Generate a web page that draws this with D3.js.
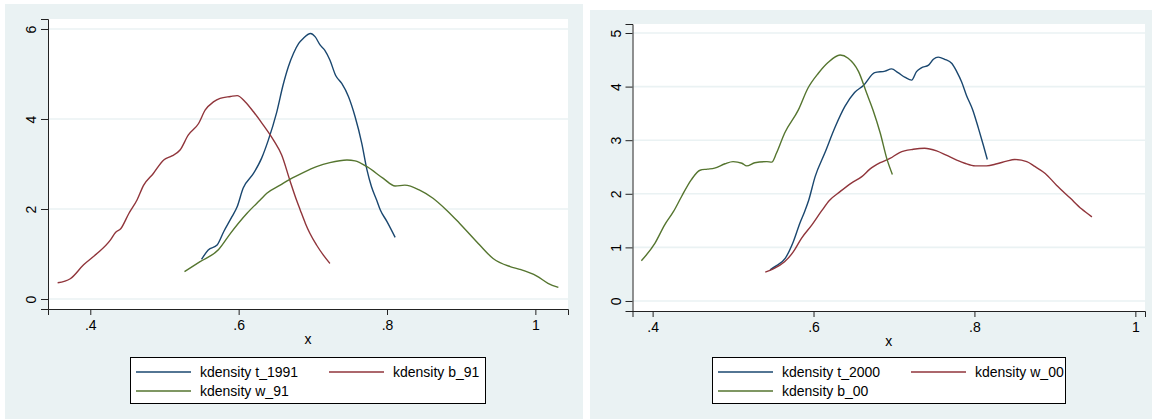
<!DOCTYPE html>
<html>
<head>
<meta charset="utf-8">
<script src="https://cdn.jsdelivr.net/npm/d3@7"></script>
<style>
    body { margin: 0; background: #fff; }
    svg { display: block; font-family: Arial, "Liberation Sans", sans-serif; }
</style>
</head>
<body>
<div id="chart"></div>
<script>
// kdensity curves, [x, density]
var t_1991 = [[0.550,0.88],[0.559,1.09],[0.571,1.20],[0.580,1.50],[0.591,1.83],[0.598,2.05],[0.606,2.46],
    [0.620,2.79],[0.631,3.13],[0.640,3.53],[0.651,4.13],[0.660,4.76],[0.667,5.16],[0.674,5.46],[0.681,5.68],
    [0.687,5.79],[0.697,5.90],[0.703,5.83],[0.710,5.64],[0.716,5.53],[0.723,5.31],[0.731,4.96],[0.739,4.79],
    [0.748,4.50],[0.757,4.05],[0.766,3.46],[0.773,2.87],[0.779,2.50],[0.786,2.20],[0.791,1.98],[0.800,1.72],[0.811,1.37]];

var b_91 = [[0.356,0.36],[0.373,0.45],[0.391,0.76],[0.409,1.01],[0.427,1.31],[0.434,1.48],[0.441,1.56],
    [0.452,1.90],[0.463,2.20],[0.472,2.53],[0.485,2.79],[0.499,3.09],[0.510,3.18],[0.521,3.31],[0.532,3.64],
    [0.546,3.90],[0.555,4.20],[0.566,4.38],[0.575,4.46],[0.589,4.50],[0.598,4.52],[0.609,4.38],[0.620,4.16],
    [0.633,3.87],[0.647,3.53],[0.658,3.20],[0.669,2.64],[0.678,2.20],[0.683,1.98],[0.690,1.68],[0.696,1.46],
    [0.705,1.20],[0.714,0.98],[0.723,0.79]];

var w_91 = [[0.527,0.61],[0.548,0.83],[0.573,1.10],[0.589,1.46],[0.611,1.90],[0.629,2.20],[0.638,2.35],
    [0.656,2.53],[0.669,2.66],[0.687,2.81],[0.705,2.94],[0.723,3.03],[0.746,3.09],[0.757,3.07],[0.773,2.94],
    [0.795,2.68],[0.811,2.51],[0.824,2.53],[0.844,2.42],[0.862,2.24],[0.880,1.98],[0.898,1.68],[0.925,1.20],
    [0.943,0.90],[0.966,0.72],[0.979,0.66],[1.002,0.51],[1.017,0.35],[1.031,0.26]];

var t_2000 = [[0.546,0.58],[0.552,0.64],[0.565,0.80],[0.575,1.11],[0.583,1.45],[0.589,1.67],[0.594,1.88],
    [0.602,2.32],[0.614,2.76],[0.627,3.25],[0.639,3.63],[0.651,3.89],[0.662,4.02],[0.676,4.26],[0.689,4.29],
    [0.697,4.33],[0.705,4.26],[0.714,4.17],[0.722,4.12],[0.728,4.28],[0.734,4.35],[0.743,4.40],[0.749,4.51],
    [0.755,4.55],[0.763,4.51],[0.772,4.43],[0.778,4.28],[0.784,4.09],[0.790,3.84],[0.798,3.56],[0.805,3.22],
    [0.811,2.91],[0.816,2.64]];

var w_00 = [[0.540,0.54],[0.550,0.60],[0.564,0.73],[0.575,0.92],[0.585,1.17],[0.598,1.42],[0.610,1.68],
    [0.620,1.88],[0.633,2.04],[0.647,2.20],[0.660,2.32],[0.670,2.46],[0.683,2.58],[0.695,2.66],[0.707,2.77],
    [0.724,2.83],[0.738,2.85],[0.753,2.80],[0.765,2.72],[0.778,2.63],[0.788,2.57],[0.801,2.52],[0.815,2.52],
    [0.828,2.56],[0.840,2.61],[0.850,2.64],[0.865,2.60],[0.875,2.51],[0.888,2.38],[0.902,2.16],[0.919,1.92],
    [0.933,1.72],[0.946,1.57]];

var b_00 = [[0.386,0.75],[0.403,1.08],[0.415,1.42],[0.426,1.67],[0.436,1.95],[0.448,2.26],[0.459,2.44],
    [0.468,2.46],[0.477,2.48],[0.490,2.56],[0.500,2.60],[0.511,2.57],[0.517,2.52],[0.527,2.58],[0.542,2.60],
    [0.548,2.59],[0.554,2.76],[0.564,3.13],[0.581,3.56],[0.593,3.97],[0.606,4.25],[0.618,4.45],[0.633,4.59],
    [0.643,4.53],[0.656,4.28],[0.666,3.88],[0.674,3.56],[0.683,3.13],[0.691,2.66],[0.698,2.36]];

var xTicks = [0.4, 0.6, 0.8, 1];
var yTicksLeft = [0, 2, 4, 6];
var yTicksRight = [0, 1, 2, 3, 4, 5];

var navy = "#1a476f", maroon = "#90353b", green = "#55752f";

var svg = d3.select("#chart").append("svg")
    .attr("width", 1152)
    .attr("height", 419);

function fmt(d) {
    // stata style: .4 .6 .8 1
    return d === 1 ? "1" : d3.format(".1f")(d).replace(/^0/, "");
}

function drawPanel(p)
{
    var g = svg.append("g");

    g.append("rect")
        .attr("x", p.box[0]).attr("y", p.box[1])
        .attr("width", p.box[2]).attr("height", p.box[3])
        .style("fill", "#eaf2f3");

    var x = d3.scaleLinear().domain(p.xDomain).range([p.plot[0], p.plot[2]]);
    var y = d3.scaleLinear().domain(p.yDomain).range([p.plot[3], p.plot[1]]);

    g.append("rect")
        .attr("x", p.plot[0]).attr("y", p.plot[1])
        .attr("width", p.plot[2] - p.plot[0]).attr("height", p.plot[3] - p.plot[1])
        .style("fill", "#fff");

    // horizontal grid
    g.selectAll(".grid")
        .data(p.yTicks)
        .enter().append("line")
            .attr("x1", p.plot[0]).attr("x2", p.plot[2])
            .attr("y1", function(d) { return y(d); })
            .attr("y2", function(d) { return y(d); })
            .style("stroke", "#eaf2f3")
            .style("stroke-width", 1.6);

    var line = d3.line()
        .x(function(d) { return x(d[0]); })
        .y(function(d) { return y(d[1]); })
        .curve(d3.curveMonotoneX);

    p.series.forEach(function(s) {
        g.append("path")
            .datum(s.data)
            .attr("d", line)
            .style("fill", "none")
            .style("stroke", s.color)
            .style("stroke-width", 1.4);
    });

    // y axis
    var yAxis = g.append("g")
        .attr("transform", "translate(" + p.plot[0] + ",0)")
        .call(d3.axisLeft(y).tickValues(p.yTicks).tickSize(7).tickFormat(d3.format("d")));
    yAxis.select(".domain").style("stroke", "#222");
    yAxis.selectAll(".tick line").style("stroke", "#222");
    yAxis.selectAll(".tick text")
        .attr("x", null).attr("dy", null)
        .attr("transform", "translate(-12,0) rotate(-90)")
        .style("text-anchor", "middle")
        .style("font-size", "14px")
        .style("fill", "#000");

    // x axis
    var xAxis = g.append("g")
        .attr("transform", "translate(0," + p.plot[3] + ")")
        .call(d3.axisBottom(x).tickValues(xTicks).tickSize(6).tickFormat(fmt));
    xAxis.select(".domain").style("stroke", "#222");
    xAxis.selectAll(".tick line").style("stroke", "#222");
    xAxis.selectAll(".tick text")
        .attr("y", 11)
        .style("font-size", "14px")
        .style("fill", "#000");

    g.append("text")
        .attr("x", (p.plot[0] + p.plot[2]) / 2)
        .attr("y", p.plot[3] + 35)
        .style("text-anchor", "middle")
        .style("font-size", "14px")
        .text("x");

    // legend box
    var lg = g.append("g")
        .attr("transform", "translate(" + p.legend[0] + "," + p.legend[1] + ")");

    lg.append("rect")
        .attr("x", 0.5).attr("y", 0.5)
        .attr("width", p.legend[2]).attr("height", 46)
        .style("fill", "#fff")
        .style("stroke", "#000")
        .style("stroke-width", 1);

    var item = lg.selectAll(".legend")
        .data(p.series)
        .enter().append("g")
            .attr("class", "legend")
            .attr("transform", function(d, i) {
                return "translate(" + (i === 1 ? 193 : 0) + "," + (i === 2 ? 34 : 15) + ")";
            });

    item.append("line")
        .attr("x1", 6).attr("x2", 61)
        .style("stroke", function(d) { return d.color; })
        .style("stroke-width", 1.4);

    item.append("text")
        .attr("x", 70)
        .attr("dy", ".35em")
        .style("font-size", "14px")
        .text(function(d) { return d.name; });
}

drawPanel({
    box: [5, 4, 578, 415],
    plot: [48, 19, 568, 309],
    xDomain: [0.343, 1.044],
    yDomain: [-0.222, 6.222],
    yTicks: yTicksLeft,
    legend: [130, 357, 355],
    series: [
        {name: "kdensity t_1991", color: navy, data: t_1991},
        {name: "kdensity b_91", color: maroon, data: b_91},
        {name: "kdensity w_91", color: green, data: w_91}
    ]
});

drawPanel({
    box: [590, 10, 562, 409],
    plot: [632.5, 24, 1145, 311],
    xDomain: [0.375, 1.012],
    yDomain: [-0.187, 5.168],
    yTicks: yTicksRight,
    legend: [712, 357, 353],
    series: [
        {name: "kdensity t_2000", color: navy, data: t_2000},
        {name: "kdensity w_00", color: maroon, data: w_00},
        {name: "kdensity b_00", color: green, data: b_00}
    ]
});
</script>
</body>
</html>
